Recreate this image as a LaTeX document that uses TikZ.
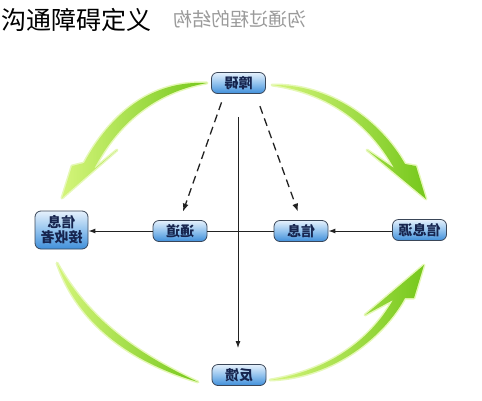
\documentclass[tikz,border=0pt]{standalone}
\usepackage{fontspec}
\usepackage{graphicx}
\setmainfont{Noto Sans CJK SC}
\usetikzlibrary{arrows.meta,calc}
\definecolor{boxtop}{HTML}{E6F1FC}
\definecolor{boxmid}{HTML}{93C3EE}
\definecolor{boxbot}{HTML}{3F8FDA}
\definecolor{boxline}{HTML}{3A4658}
\definecolor{boxtext}{HTML}{16244E}
\definecolor{gA}{HTML}{D4F57A}
\definecolor{gB}{HTML}{76C81C}
\definecolor{glow}{HTML}{E6F8B8}
\definecolor{lineblack}{HTML}{222222}
\definecolor{subgray}{HTML}{9A9A9A}
\begin{document}
\begin{tikzpicture}[x=1pt,y=-1pt,
  box/.style={draw=boxline, line width=0.8pt, rounded corners=6pt,
    minimum width=54pt, minimum height=21pt, inner sep=2pt,
    top color=boxtop, bottom color=boxbot, middle color=boxmid,
    text=boxtext, font=\fontsize{14}{16}\selectfont\bfseries, align=center},
  conn/.style={draw=lineblack, line width=1pt},
  conntip/.style={conn, -{Latex[length=7pt,width=5pt]}},
  dasharrow/.style={conn, line width=1.3pt, dash pattern=on 8pt off 5pt, -{Latex[length=8pt,width=6pt]}},
  garrow/.style={left color=gA, right color=gB,
    preaction={draw=glow, line width=3pt, line join=round}}
]
\useasboundingbox (0,0) rectangle (482,400);
% titles
\node[anchor=west, inner sep=0pt, font=\fontsize{25}{28}\selectfont] (title) at (1,20) {沟通障碍定义};
\node[anchor=west, inner sep=0pt, text=subgray, font=\fontsize{19}{22}\selectfont] (subtitle) at (173,19) {\reflectbox{沟通过程的结构}};
% boxes
\node[box] (za) at (238.5,83) {\reflectbox{障碍}};
\node[box, minimum width=53pt, minimum height=38pt, inner sep=1.5pt] (js) at (61.5,230) {\reflectbox{信息}\\[-1pt]\reflectbox{接收者}};
\node[box] (td) at (180,231) {\reflectbox{通道}};
\node[box] (xx) at (301,231) {\reflectbox{信息}};
\node[box] (xy) at (419.5,230) {\reflectbox{信息源}};
\node[box] (fk) at (239,375) {\reflectbox{反馈}};
% connectors
\draw[conntip] (xy.west |- xx.east) -- (xx.east);
\draw[conn] (xx.west) -- (td.east);
\draw[conntip] (td.west) -- (td.west -| js.east);
\draw[conntip, shorten <=23pt, shorten >=16pt] (za.south -| 238,0) -- (fk.north -| 238,0);
\draw[dasharrow, shorten <=9pt, shorten >=9pt] ($(za.south)+(-14,0)$) -- (td.north);
\draw[dasharrow, shorten <=13pt, shorten >=9pt] ($(za.south)+(17,0)$) -- (xx.north);
% green arrows
\path[garrow] (207,83) .. controls (150,80) and (110,115) .. (84,163) -- (72,166) -- (62,198) -- (117,150) -- (94,169) .. controls (117,124) and (155,92) .. (207,83) -- cycle;
\path[garrow] (272,85) .. controls (330,84) and (380,120) .. (405,164) -- (416,166) -- (426,199) -- (367,150) -- (394,168) .. controls (370,125) and (330,93) .. (272,85) -- cycle;
\path[garrow] (57,263) .. controls (80,330) and (140,365) .. (198,382) .. controls (145,357) and (92,325) .. (57,263) -- cycle;
\path[garrow] (270,380) .. controls (335,378) and (385,335) .. (405,298) -- (414,298) -- (424,265) -- (365,315) -- (393,300) .. controls (370,340) and (330,370) .. (270,380) -- cycle;
\end{tikzpicture}
\end{document}
